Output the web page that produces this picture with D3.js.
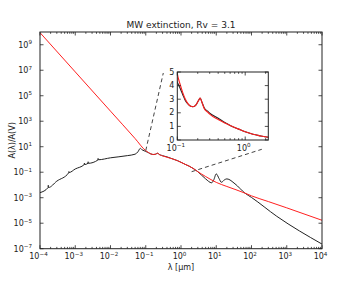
<!DOCTYPE html>
<html>
<head>
<meta charset="utf-8">
<script src="https://cdn.jsdelivr.net/npm/d3@7"></script>
<style>
  body { margin: 0; background: #fff; }
  text { font-family: "DejaVu Sans", sans-serif; fill: #222; }
</style>
</head>
<body>
<svg width="354" height="281"></svg>
<script>
// Data
const redLam = [1e-4, 1e-3, 1e-2, 0.05, 0.1, 0.11, 0.12, 0.13, 0.14, 0.155, 0.17, 0.19, 0.205, 0.217, 0.23, 0.25, 0.28, 0.3, 0.4, 0.5, 0.6, 0.8, 1.0, 1.3, 1.7, 2.2, 3, 5, 10, 20, 34, 65, 100, 300, 1e3, 1e4];
const redA = [8.9e9, 7.4e6, 6166, 43.4, 4.9, 4.1, 3.5, 3.05, 2.75, 2.5, 2.45, 2.6, 2.9, 3.08, 2.8, 2.3, 2.05, 1.9, 1.5, 1.25, 1.07, 0.8, 0.6, 0.42, 0.3, 0.2, 0.11, 0.046, 0.016, 0.0076, 0.0045, 0.0023, 0.0014, 5e-4, 1.6e-4, 1.7e-5];

const blackLam = [1e-4, 1.7e-4, 1.72e-4, 1.74e-4, 3e-4, 6.5e-4, 6.6e-4, 6.7e-4, 1e-3, 1.8e-3, 1.82e-3, 1.84e-3, 2.3e-3, 2.32e-3, 2.34e-3, 4.4e-3, 4.45e-3, 4.5e-3, 1e-2, 3e-2, 5e-2, 6e-2, 7e-2, 8e-2, 0.09, 0.1, 0.11, 0.12, 0.13, 0.14, 0.155, 0.17, 0.19, 0.205, 0.217, 0.23, 0.25, 0.28, 0.3, 0.4, 0.5, 0.6, 0.8, 1.0, 1.3, 1.7, 2.2, 3, 5, 7.4, 8.5, 10, 12, 14, 17, 20, 34, 65, 100, 520, 1e4];
const blackA = [0.0025, 0.0063, 0.0095, 0.0063, 0.02, 0.089, 0.112, 0.095, 0.18, 0.4, 0.52, 0.4, 0.5, 0.66, 0.5, 0.91, 1.2, 0.95, 1.35, 2.0, 2.6, 4.0, 7.4, 5.6, 4.8, 4.25, 3.8, 3.35, 2.95, 2.7, 2.5, 2.45, 2.6, 2.9, 3.08, 2.8, 2.35, 2.12, 1.98, 1.6, 1.28, 1.07, 0.8, 0.6, 0.42, 0.3, 0.2, 0.11, 0.03, 0.0148, 0.025, 0.074, 0.032, 0.0162, 0.025, 0.03, 0.0123, 0.0023, 0.00105, 3.5e-5, 2.3e-7];

const xExps = d3.range(-4, 5);        // main x decades
const yExps = d3.range(-7, 10, 2);    // labelled y decades
const insetYTicks = [0, 1, 2, 3, 4, 5];
const insetXExps = [-1, 0];

const titleText = "MW extinction, Rv = 3.1";
const xLabel = "\u03bb [\u03bcm]";
const yLabel = "A(\u03bb)/A(V)";

const svg = d3.select("svg");
const minus = s => String(s).replace("-", "\u2212");

// main axes box
const main = { left: 40, right: 322, top: 32, bottom: 248.7 };
const x = d3.scaleLog().domain([1e-4, 1e4]).range([main.left, main.right]);
const y = d3.scaleLog().domain([1e-7, 1e10]).range([main.bottom, main.top]);

// inset box
const ins = { left: 177.3, right: 268.3, top: 72, bottom: 140 };
const xi = d3.scaleLog().domain([0.1, 2.19]).range([ins.left, ins.right]);
const yi = d3.scaleLinear().domain([0, 5]).range([ins.bottom, ins.top]);

const pts = (lam, a) => lam.map((l, i) => ({ l: l, a: a[i] }));
const red = pts(redLam, redA), black = pts(blackLam, blackA);

svg.append("clipPath").attr("id", "clipMain").append("rect")
    .attr("x", main.left).attr("y", main.top)
    .attr("width", main.right - main.left).attr("height", main.bottom - main.top);
svg.append("clipPath").attr("id", "clipIns").append("rect")
    .attr("x", ins.left).attr("y", ins.top)
    .attr("width", ins.right - ins.left).attr("height", ins.bottom - ins.top);

// lines in the main panel
const lineMain = d3.line().x(d => x(d.l)).y(d => y(d.a)).curve(d3.curveMonotoneX);
const gMain = svg.append("g").attr("clip-path", "url(#clipMain)");
gMain.append("path").datum(black).attr("d", lineMain)
    .attr("fill", "none").attr("stroke", "#222").attr("stroke-width", 1);
gMain.append("path").datum(red).attr("d", lineMain)
    .attr("fill", "none").attr("stroke", "#ff2020").attr("stroke-width", 1);

// tick helpers
function minorLog(lo, hi) {
    const out = [];
    for (let e = lo; e < hi; e++) for (let k = 2; k < 10; k++) out.push(k * 10 ** e);
    return out;
}
function drawTicks(g, scale, values, orient, len) {
    g.selectAll(null).data(values).enter().append("line")
        .attr("x1", d => orient.v ? scale(d) : orient.pos)
        .attr("x2", d => orient.v ? scale(d) : orient.pos + orient.dir * len)
        .attr("y1", d => orient.v ? orient.pos : scale(d))
        .attr("y2", d => orient.v ? orient.pos + orient.dir * len : scale(d))
        .attr("stroke", "#222").attr("stroke-width", 0.8);
}
function powLabel(g, px, py, e, anchor) {
    const t = g.append("text").attr("x", px).attr("y", py)
        .attr("text-anchor", anchor).attr("font-size", 8);
    t.append("tspan").text("10");
    t.append("tspan").attr("font-size", 5.6).attr("dy", -3.5).text(minus(e));
}

// main ticks
const gAx = svg.append("g");
const xMaj = xExps.map(e => 10 ** e), xMin = minorLog(-4, 4);
drawTicks(gAx, x, xMaj, { v: true, pos: main.bottom, dir: -1 }, 3.5);
drawTicks(gAx, x, xMaj, { v: true, pos: main.top, dir: 1 }, 3.5);
drawTicks(gAx, x, xMin, { v: true, pos: main.bottom, dir: -1 }, 1.8);
drawTicks(gAx, x, xMin, { v: true, pos: main.top, dir: 1 }, 1.8);
const yMaj = yExps.map(e => 10 ** e);
drawTicks(gAx, y, yMaj, { v: false, pos: main.left, dir: 1 }, 3.5);
drawTicks(gAx, y, yMaj, { v: false, pos: main.right, dir: -1 }, 3.5);

xExps.forEach(e => powLabel(gAx, x(10 ** e) - 1.5, main.bottom + 10.5, e, "middle"));
yExps.forEach(e => powLabel(gAx, main.left - 8, y(10 ** e) + 3, e, "end"));

gAx.append("rect").attr("x", main.left).attr("y", main.top)
    .attr("width", main.right - main.left).attr("height", main.bottom - main.top)
    .attr("fill", "none").attr("stroke", "#222").attr("stroke-width", 1);

// zoom connectors (from zoomed data corners to the inset)
const conn = [
    { a: [x(0.1), y(5)], b: [ins.left - 14, ins.top + 1] },
    { a: [x(2.0), y(0.11)], b: [ins.right - 6.5, ins.bottom + 9.3] }
];
svg.selectAll(".conn").data(conn).enter().append("line")
    .attr("x1", d => d.a[0]).attr("y1", d => d.a[1])
    .attr("x2", d => d.b[0]).attr("y2", d => d.b[1])
    .attr("stroke", "#444").attr("stroke-width", 1).attr("stroke-dasharray", "4,3");

// inset
const gIns = svg.append("g");
gIns.append("rect").attr("x", ins.left).attr("y", ins.top)
    .attr("width", ins.right - ins.left).attr("height", ins.bottom - ins.top)
    .attr("fill", "#fff");
const lineIns = d3.line().x(d => xi(d.l)).y(d => yi(d.a)).curve(d3.curveMonotoneX);
const gInsLines = gIns.append("g").attr("clip-path", "url(#clipIns)");
gInsLines.append("path").datum(black).attr("d", lineIns)
    .attr("fill", "none").attr("stroke", "#222").attr("stroke-width", 1.1);
gInsLines.append("path").datum(red).attr("d", lineIns)
    .attr("fill", "none").attr("stroke", "#ff2020").attr("stroke-width", 1.1);

const xiMaj = insetXExps.map(e => 10 ** e);
const xiMin = minorLog(-1, 0).concat([2]);
drawTicks(gIns, xi, xiMaj, { v: true, pos: ins.bottom, dir: -1 }, 3.5);
drawTicks(gIns, xi, xiMaj, { v: true, pos: ins.top, dir: 1 }, 3.5);
drawTicks(gIns, xi, xiMin, { v: true, pos: ins.bottom, dir: -1 }, 1.8);
drawTicks(gIns, xi, xiMin, { v: true, pos: ins.top, dir: 1 }, 1.8);
drawTicks(gIns, yi, insetYTicks, { v: false, pos: ins.left, dir: 1 }, 3.5);
drawTicks(gIns, yi, insetYTicks, { v: false, pos: ins.right, dir: -1 }, 3.5);

insetXExps.forEach(e => powLabel(gIns, xi(10 ** e) - 1.5, ins.bottom + 10.5, e, "middle"));
gIns.selectAll(".yl").data(insetYTicks).enter().append("text")
    .attr("x", ins.left - 3).attr("y", d => yi(d) + 2.6)
    .attr("text-anchor", "end").attr("font-size", 8).text(d => d);

gIns.append("rect").attr("x", ins.left).attr("y", ins.top)
    .attr("width", ins.right - ins.left).attr("height", ins.bottom - ins.top)
    .attr("fill", "none").attr("stroke", "#222").attr("stroke-width", 1);

// title and axis labels
svg.append("text").attr("x", (main.left + main.right) / 2).attr("y", 28)
    .attr("text-anchor", "middle").attr("font-size", 9).text(titleText);
svg.append("text").attr("x", (main.left + main.right) / 2).attr("y", 270)
    .attr("text-anchor", "middle").attr("font-size", 8).text(xLabel);
svg.append("text")
    .attr("transform", `translate(15,${(main.top + main.bottom) / 2}) rotate(-90)`)
    .attr("text-anchor", "middle").attr("font-size", 8).text(yLabel);
</script>
</body>
</html>
